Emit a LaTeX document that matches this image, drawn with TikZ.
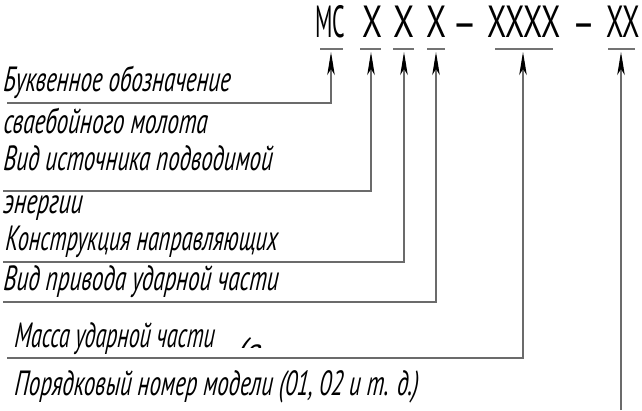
\documentclass[tikz,border=0pt]{standalone}
\usepackage{fontspec}
\usepackage{graphicx}
\setmainfont{PT Sans}
\newfontfamily\gostit[FakeSlant=0.12]{PT Sans Italic}
\usetikzlibrary{arrows.meta}
\tikzset{
  lbl/.style={anchor=base west, inner sep=0pt, font=\gostit\fontsize{35}{40}\selectfont},
  code/.style={anchor=base, inner sep=0pt, font=\fontsize{45}{50}\selectfont},
  conn/.style={draw=black!58, line width=1.1pt, -{Stealth[length=23pt,width=7.5pt,inset=6pt,black]}},
  uline/.style={draw=black!55, line width=1.5pt},
}
\begin{document}
\begin{tikzpicture}[x=1pt,y=-1pt]
\useasboundingbox[fill=white] (0,0) rectangle (642,410);

% code
\node[code] (cMC) at (330,37) {\resizebox{30pt}{\height}{МС}};
\node[code] (cX1) at (372,37) {\resizebox{20pt}{\height}{X}};
\node[code] (cX2) at (404,37) {\resizebox{21pt}{\height}{X}};
\node[code] (cX3) at (436,37) {\resizebox{20pt}{\height}{X}};
\node[code] (cD1) at (464.5,38) {\resizebox{25pt}{\height}{–}};
\node[code] (cX4) at (524,37) {\resizebox{74pt}{\height}{XXXX}};
\node[code] (cD2) at (583.5,38) {\resizebox{23pt}{\height}{–}};
\node[code] (cX5) at (623,37) {\resizebox{34pt}{\height}{XX}};

% underlines
\draw[uline] (320,49) -- (343,49);
\draw[uline] (360,49) -- (381,49);
\draw[uline] (393,49) -- (414,49);
\draw[uline] (427,49) -- (445,49);
\draw[uline] (495,49) -- (553,49);
\draw[uline] (608,49) -- (635,49);
\coordinate (a1) at (331,52);
\coordinate (a2) at (371,52);
\coordinate (a3) at (404,52);
\coordinate (a4) at (436,52);
\coordinate (a5) at (523,52);
\coordinate (a6) at (621,52);

% labels
\node[lbl] (t1) at (3,91) {\resizebox{227pt}{\height}{Буквенное обозначение}};
\node[lbl] (t2) at (3,133) {\resizebox{204pt}{\height}{сваебойного молота}};
\node[lbl] (t3) at (3,170) {\resizebox{269pt}{\height}{Вид источника подводимой}};
\node[lbl] (t4) at (3,213) {\resizebox{79pt}{\height}{энергии}};
\node[lbl] (t5) at (5,250) {\resizebox{272pt}{\height}{Конструкция направляющих}};
\node[lbl] (t6) at (3,290) {\resizebox{275pt}{\height}{Вид привода ударной части}};
\node[lbl] (t7) at (14,347) {\resizebox{200pt}{\height}{Масса ударной части}};
\begin{scope}
  \clip (228,330) rectangle (275,347);
  \node[lbl] (t7b) at (236,362) {\resizebox{24pt}{\height}{(в}};
\end{scope}
\node[lbl] (t8) at (14,395) {\resizebox{404pt}{\height}{Порядковый номер модели (01, 02 и т. д.)}};

% connector start points
\coordinate (h1) at (7,103);
\coordinate (h2) at (3,191);
\coordinate (h3) at (3,262);
\coordinate (h4) at (3,302);
\coordinate (h5) at (7,358);
\coordinate (h6) at (621,410);

\draw[conn] (h1) -| (a1);
\draw[conn] (h2) -| (a2);
\draw[conn] (h3) -| (a3);
\draw[conn] (h4) -| (a4);
\draw[conn] (h5) -| (a5);
\draw[conn] (h6) -- (a6);
\end{tikzpicture}
\end{document}
